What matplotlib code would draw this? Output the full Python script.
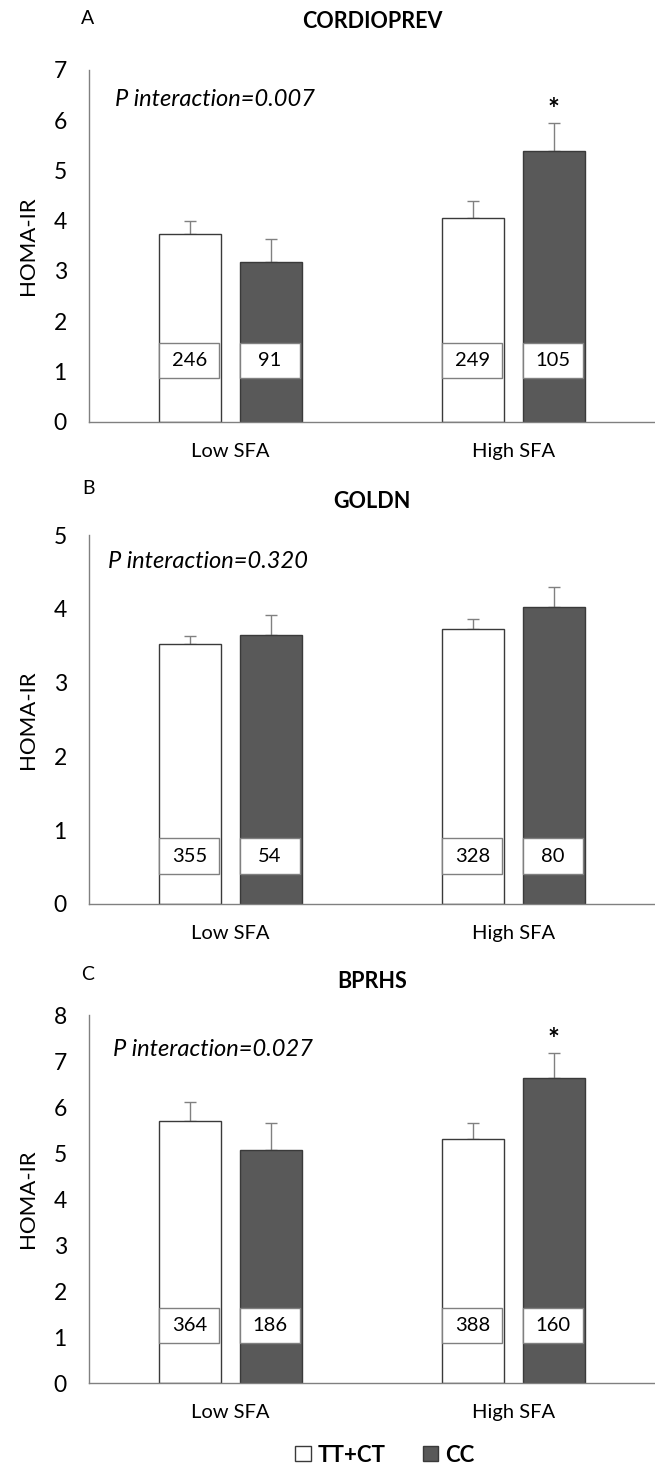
import matplotlib
matplotlib.use("Agg")
import matplotlib.pyplot as plt
import numpy as np
from matplotlib.patches import Rectangle, Patch

plt.rcParams['font.family'] = ['Lato', 'DejaVu Sans']

groups = ['Low SFA', 'High SFA']
studies = ['CORDIOPREV', 'GOLDN', 'BPRHS']
letters = ['A', 'B', 'C']
p_texts = ['P interaction=0.007', 'P interaction=0.320', 'P interaction=0.027']

tt_mean = [[3.73, 4.05], [3.52, 3.73], [5.69, 5.30]]
tt_err = [[0.27, 0.35], [0.11, 0.13], [0.41, 0.35]]
cc_mean = [[3.17, 5.39], [3.64, 4.02], [5.07, 6.62]]
cc_err = [[0.46, 0.55], [0.28, 0.28], [0.58, 0.56]]
tt_n = [[246, 249], [355, 328], [364, 388]]
cc_n = [[91, 105], [54, 80], [186, 160]]
signif = [[False, True], [False, False], [False, True]]
ymax = [7, 5, 8]

# layout (pixels in a 655x1466 picture)
W, H = 655, 1466
ax_left = 89
ax_bottom_px = [421.7, 904, 1383]
ax_top_px = [70, 535, 1015]
title_y_px = [22, 502, 982]
letter_y_px = [18, 488, 975]
ptext_px = [(115, 100), (108, 562), (113, 1050)]
nbox = [(0.87, 1.57), (0.40, 0.89), (0.87, 1.63)]

dark = '#595959'
edge = '#3a3a3a'
grey = '#808080'
w = 0.218
off = 0.142

fig = plt.figure(figsize=(W / 100, H / 100), dpi=100)

for i in range(3):
    b, t = ax_bottom_px[i], ax_top_px[i]
    ax = fig.add_axes([ax_left / W, 1 - b / H, (W - ax_left) / W, (b - t) / H])
    x = np.arange(len(groups))
    ax.bar(x - off, tt_mean[i], w, color='white', edgecolor=edge, linewidth=1, zorder=2)
    ax.bar(x + off, cc_mean[i], w, color=dark, edgecolor=edge, linewidth=1, zorder=2)
    ax.errorbar(x - off, tt_mean[i], yerr=[np.zeros(2), tt_err[i]], fmt='none',
                ecolor=grey, elinewidth=1, capsize=4, capthick=1, zorder=1)
    ax.errorbar(x + off, cc_mean[i], yerr=[np.zeros(2), cc_err[i]], fmt='none',
                ecolor=grey, elinewidth=1, capsize=4, capthick=1, zorder=1)

    y0, y1 = nbox[i]
    for j in range(2):
        for xc, n in [(x[j] - off, tt_n[i][j]), (x[j] + off, cc_n[i][j])]:
            ax.add_patch(Rectangle((xc - w / 2, y0), w * 0.97, y1 - y0, facecolor='white',
                                   edgecolor=grey, linewidth=1, zorder=3))
            ax.text(xc - w * 0.015, (y0 + y1) / 2, str(n), ha='center', va='center',
                    fontsize=14.5, zorder=4)
        if signif[i][j]:
            ax.annotate('*', (x[j] + off, cc_mean[i][j] + cc_err[i][j]), xytext=(0, 13),
                        textcoords='offset pixels', ha='center', va='center',
                        fontsize=20, fontweight='bold')

    ax.set_xlim(-0.5, 1.5)
    ax.set_ylim(0, ymax[i])
    ax.set_yticks(range(ymax[i] + 1))
    ax.set_xticks(x)
    ax.set_xticklabels(groups)
    ax.tick_params(axis='y', length=0, pad=16, labelsize=16.5)
    ax.tick_params(axis='x', length=0, pad=15, labelsize=14.5)
    for s in ['top', 'right']:
        ax.spines[s].set_visible(False)
    for s in ['left', 'bottom']:
        ax.spines[s].set_color(grey)
        ax.spines[s].set_linewidth(1)

    fig.text(28 / W, 1 - (b + t) / 2 / H, 'HOMA-IR', rotation=90, ha='center', va='center',
             fontsize=16)
    fig.text((ax_left + W) / 2 / W, 1 - title_y_px[i] / H, studies[i], ha='center',
             va='center', fontsize=15.5, fontweight='bold')
    fig.text(88 / W, 1 - letter_y_px[i] / H, letters[i], ha='center', va='center', fontsize=14)
    px, py = ptext_px[i]
    fig.text(px / W, 1 - py / H, p_texts[i], ha='left', va='center', fontsize=17,
             style='italic')

handles = [Patch(facecolor='white', edgecolor=edge, linewidth=1),
           Patch(facecolor=dark, edgecolor=edge, linewidth=1)]
fig.legend(handles, ['TT+CT', 'CC'], loc='center', bbox_to_anchor=(385 / W, 1 - 1455 / H),
           ncol=2, frameon=False, prop={'size': 16, 'weight': 'bold'},
           handlelength=0.68, handleheight=0.68, handletextpad=0.31, columnspacing=1.7)

fig.savefig('out.png', dpi=100)
